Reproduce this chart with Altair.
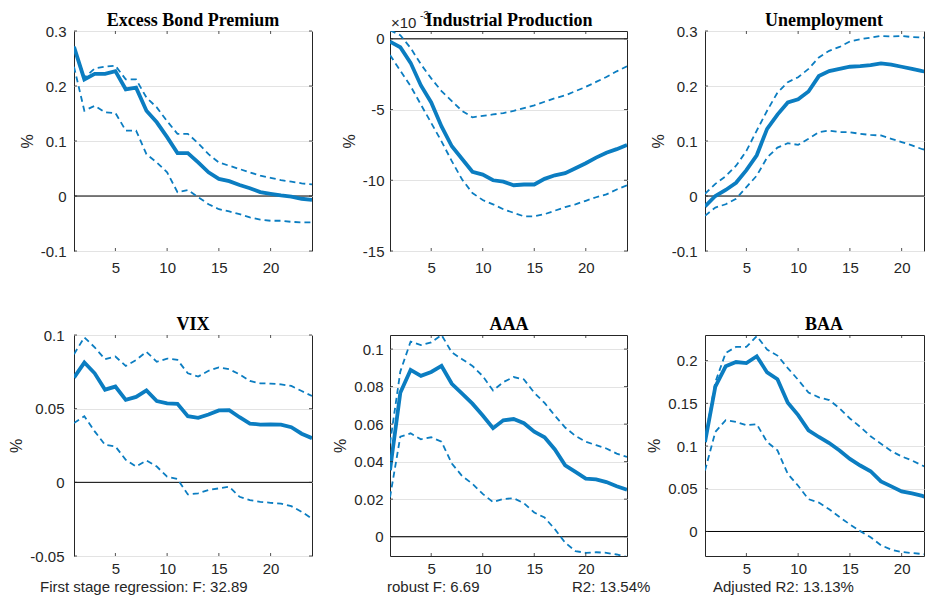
import altair as alt
import pandas as pd

H = list(range(1, 25))

ebp_irf = [0.271, 0.212, 0.222, 0.222, 0.227, 0.194, 0.197, 0.155, 0.134, 0.107, 0.078, 0.078,
           0.061, 0.043, 0.031, 0.027, 0.020, 0.014, 0.007, 0.004, 0.001, -0.001, -0.005, -0.007]
ebp_hi = [0.272, 0.215, 0.232, 0.235, 0.237, 0.212, 0.212, 0.179, 0.161, 0.136, 0.113, 0.113,
          0.096, 0.076, 0.061, 0.055, 0.049, 0.043, 0.037, 0.033, 0.029, 0.026, 0.023, 0.021]
ebp_lo = [0.235, 0.155, 0.164, 0.152, 0.151, 0.119, 0.119, 0.076, 0.061, 0.043, 0.007, 0.011,
          -0.002, -0.015, -0.024, -0.028, -0.033, -0.039, -0.043, -0.045, -0.045, -0.047, -0.048, -0.048]

ip_irf = [-0.2, -0.6, -1.7, -3.3, -4.5, -6.2, -7.6, -8.5, -9.4, -9.6, -10.0, -10.1,
          -10.35, -10.3, -10.3, -9.9, -9.65, -9.5, -9.15, -8.8, -8.4, -8.05, -7.8, -7.5]
ip_hi = [0.6, 0.25, -0.65, -1.8, -2.8, -3.7, -4.4, -5.1, -5.55, -5.45, -5.35, -5.25,
         -5.1, -4.9, -4.7, -4.45, -4.2, -4.0, -3.7, -3.4, -3.05, -2.7, -2.3, -1.95]
ip_lo = [-1.15, -2.25, -3.35, -4.65, -5.95, -7.25, -8.65, -9.95, -10.9, -11.4, -11.7, -12.05,
         -12.3, -12.55, -12.55, -12.4, -12.15, -11.9, -11.7, -11.45, -11.2, -11.0, -10.65, -10.35]

un_irf = [-0.019, 0.0, 0.011, 0.024, 0.047, 0.074, 0.122, 0.148, 0.170, 0.176, 0.190, 0.218,
          0.227, 0.231, 0.235, 0.236, 0.238, 0.241, 0.239, 0.235, 0.231, 0.227, 0.225, 0.224]
un_hi = [0.004, 0.022, 0.036, 0.055, 0.082, 0.119, 0.155, 0.188, 0.207, 0.216, 0.231, 0.252,
         0.264, 0.271, 0.281, 0.285, 0.288, 0.291, 0.290, 0.291, 0.289, 0.288, 0.287, 0.286]
un_lo = [-0.036, -0.021, -0.015, -0.005, 0.016, 0.037, 0.070, 0.088, 0.096, 0.093, 0.104, 0.116,
         0.119, 0.116, 0.116, 0.113, 0.111, 0.110, 0.104, 0.098, 0.092, 0.085, 0.082, 0.080]

vix_irf = [0.0711, 0.0813, 0.074, 0.0629, 0.065, 0.056, 0.058, 0.0624, 0.0552, 0.0536, 0.0533, 0.0449,
           0.0438, 0.046, 0.0488, 0.049, 0.0442, 0.0399, 0.0392, 0.0394, 0.0392, 0.0374, 0.033, 0.030]
vix_hi = [0.087, 0.0984, 0.0916, 0.0836, 0.0854, 0.079, 0.083, 0.0886, 0.0818, 0.084, 0.0831, 0.074,
          0.0718, 0.0757, 0.078, 0.0768, 0.0733, 0.0688, 0.0672, 0.067, 0.0665, 0.0654, 0.062, 0.0586]
vix_lo = [0.0403, 0.0449, 0.0346, 0.0255, 0.0244, 0.0153, 0.0107, 0.0148, 0.0107, 0.0039, 0.0023, -0.0082,
          -0.0075, -0.0052, -0.0041, -0.003, -0.0098, -0.0121, -0.0132, -0.0139, -0.0144, -0.0162, -0.020, -0.0246]

aaa_irf = [0.0354, 0.0767, 0.0889, 0.0857, 0.0878, 0.091, 0.0815, 0.0763, 0.0709, 0.0646, 0.0578, 0.062,
           0.0627, 0.0605, 0.056, 0.053, 0.0465, 0.038, 0.0345, 0.0309, 0.0305, 0.0291, 0.0269, 0.025]
aaa_hi = [0.0497, 0.088, 0.104, 0.1021, 0.1036, 0.1075, 0.0982, 0.0946, 0.091, 0.0856, 0.0779, 0.0824,
          0.0851, 0.0838, 0.0767, 0.0713, 0.0645, 0.0582, 0.0537, 0.0506, 0.0488, 0.047, 0.0443, 0.0425]
aaa_lo = [0.021, 0.0533, 0.0551, 0.0519, 0.053, 0.0506, 0.039, 0.0323, 0.0282, 0.0228, 0.0184, 0.0201,
          0.0205, 0.0178, 0.0129, 0.0102, 0.004, -0.0032, -0.0077, -0.0086, -0.0083, -0.0086, -0.0095, -0.0108]

baa_irf = [0.1047, 0.1697, 0.1933, 0.1984, 0.1972, 0.2051, 0.1862, 0.1783, 0.1508, 0.1362, 0.1185, 0.1106,
           0.1035, 0.0949, 0.085, 0.0772, 0.0705, 0.0587, 0.0528, 0.0469, 0.0445, 0.0417, 0.0378, 0.0339]
baa_hi = [0.108, 0.175, 0.209, 0.2161, 0.2161, 0.2287, 0.213, 0.2059, 0.1913, 0.1776, 0.1626, 0.1571,
          0.1539, 0.1441, 0.1323, 0.1224, 0.1114, 0.1028, 0.0941, 0.0878, 0.0831, 0.0772, 0.072, 0.069]
baa_lo = [0.0713, 0.1165, 0.1303, 0.1283, 0.1244, 0.1256, 0.1047, 0.0949, 0.0673, 0.0535, 0.0378, 0.0339,
          0.026, 0.0169, 0.0083, 0.0004, -0.0067, -0.0161, -0.0213, -0.024, -0.0252, -0.0264, -0.028, -0.029]

X_TICKS = [5, 10, 15, 20]

SANS = "Liberation Sans"
SERIF = "Liberation Serif"
BLUE = "#0B7DC1"
INK = "#262626"
LABEL_EXPR = "datum.value < 0 ? '-' + format(-datum.value, '') : format(datum.value, '')"


def text_layer(t, tx, ty, size, font=SANS, weight="normal", align="left", color=INK):
    return alt.Chart(pd.DataFrame({"t": [t]})).mark_text(
        align=align, baseline="alphabetic", font=font, fontSize=size, fontWeight=weight, color=color
    ).encode(text="t:N", x=alt.value(tx), y=alt.value(ty))


def panel(title, irf, hi, lo, ydom, yticks, width=238, height=220, xmax=24,
          label_pad=8, xlabel_pad=9, texts=(), right_ticks=True):
    df = pd.DataFrame({"h": H, "irf": irf, "hi": hi, "lo": lo})
    xs = alt.Scale(domain=[1, xmax], nice=False, zero=False)
    ys = alt.Scale(domain=ydom, nice=False, zero=False)
    xax = alt.Axis(values=X_TICKS, grid=False, ticks=False, domain=False, title=None,
                   labelFontSize=15, labelFont=SANS, labelColor=INK, labelPadding=xlabel_pad,
                   labelFlush=False)
    yax = alt.Axis(values=yticks, grid=True, gridColor="#e3e3e3", gridWidth=1,
                   ticks=False, domain=False, title="%", labelExpr=LABEL_EXPR,
                   labelFontSize=15, labelFont=SANS, labelColor=INK, labelPadding=label_pad,
                   labelFlush=False, labelOverlap=False, titleFont=SANS, titleFontSize=16,
                   titleFontWeight="normal", titleColor=INK, titlePadding=5)
    X = alt.X("h:Q", scale=xs, axis=xax)

    def Y(f):
        return alt.Y(f + ":Q", scale=ys, axis=yax)

    base = alt.Chart(df)
    zero = alt.Chart(pd.DataFrame({"irf": [0]})).mark_rule(color="#000000", strokeWidth=1).encode(y=Y("irf"))
    up = base.mark_line(color=BLUE, strokeWidth=1.8, strokeDash=[6, 4], clip=True).encode(x=X, y=Y("hi"))
    dn = base.mark_line(color=BLUE, strokeWidth=1.8, strokeDash=[6, 4], clip=True).encode(x=X, y=Y("lo"))
    main = base.mark_line(color=BLUE, strokeWidth=3.8, clip=True).encode(x=X, y=Y("irf"))

    xt = alt.Chart(pd.DataFrame({"h": X_TICKS}))
    yt = alt.Chart(pd.DataFrame({"irf": yticks}))
    tick_b = xt.mark_rule(color=INK, strokeWidth=0.8).encode(x=X, y=alt.value(height), y2=alt.value(height - 3))
    tick_t = xt.mark_rule(color=INK, strokeWidth=0.8).encode(x=X, y=alt.value(0), y2=alt.value(3))
    tick_l = yt.mark_rule(color=INK, strokeWidth=0.8).encode(y=Y("irf"), x=alt.value(0), x2=alt.value(3))
    layers = [zero, up, dn, main, tick_b, tick_t, tick_l]
    if right_ticks:
        layers.append(yt.mark_rule(color=INK, strokeWidth=0.8).encode(
            y=Y("irf"), x=alt.value(width - 3), x2=alt.value(width)))
    for t, tx, ty, size in texts:
        layers.append(text_layer(t, tx, ty, size))
    layers.append(text_layer(title, 119, -5, 18, font=SERIF, weight="bold",
                             align="center", color="#000000"))
    return alt.layer(*layers).properties(width=width, height=height)


W3 = 219
XMAX3 = 1 + W3 / 10.35

p1 = panel("Excess Bond Premium", ebp_irf, ebp_hi, ebp_lo, [-0.1, 0.3], [-0.1, 0, 0.1, 0.2, 0.3])
p2 = panel("Industrial Production", ip_irf, ip_hi, ip_lo, [-15, 0.55], [-15, -10, -5, 0], width=237,
           label_pad=6, texts=[("×10", 1, -3, 15), ("-3", 30, -12, 10)])
p3 = panel("Unemployment", un_irf, un_hi, un_lo, [-0.1, 0.3], [-0.1, 0, 0.1, 0.2, 0.3], width=W3,
           xmax=XMAX3, right_ticks=False)
p4 = panel("VIX", vix_irf, vix_hi, vix_lo, [-0.05, 0.1], [-0.05, 0, 0.05, 0.1], height=221,
           label_pad=10, xlabel_pad=5, texts=[("First stage regression: F: 32.89", -34, 257, 15)])
p5 = panel("AAA", aaa_irf, aaa_hi, aaa_lo, [-0.0103, 0.1075], [0, 0.02, 0.04, 0.06, 0.08, 0.1],
           width=237, height=221, label_pad=7, xlabel_pad=5,
           texts=[("robust F: 6.69", -3, 257, 15), ("R2: 13.54%", 182, 257, 15)])
p6 = panel("BAA", baa_irf, baa_hi, baa_lo, [-0.0287, 0.23], [0, 0.05, 0.1, 0.15, 0.2], width=W3,
           height=221, xmax=XMAX3, right_ticks=False, xlabel_pad=5,
           texts=[("Adjusted R2: 13.13%", 8, 257, 15)])

chart = alt.ConcatChart(
    concat=[p1, p2, p3, p4, p5, p6], columns=3,
    spacing=alt.RowColnumber(row=84, column=78), bounds="flush",
).properties(
    padding={"left": 0, "top": 2, "right": 0, "bottom": 0},
    background="#ffffff",
).configure_view(stroke=INK, strokeWidth=1)

chart.save("out.html", embed_options={"renderer": "svg", "actions": False})
